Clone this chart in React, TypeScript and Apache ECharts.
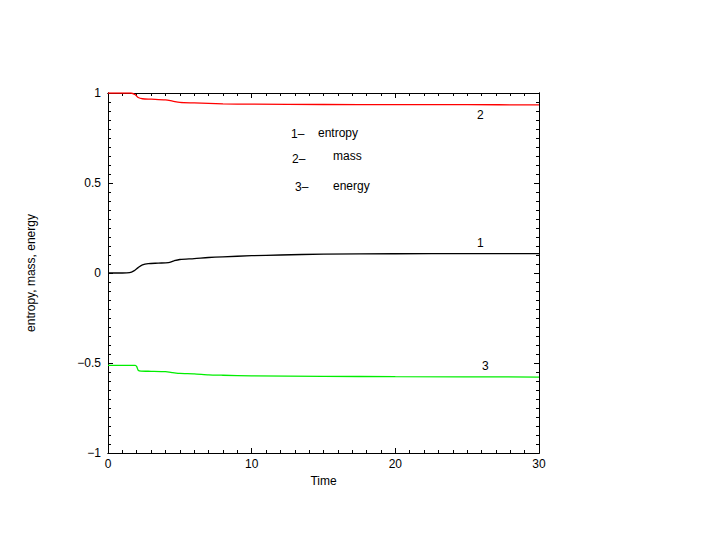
import React, { useEffect, useRef } from "react";
import * as echarts from "echarts";

const entropyT = [0, 1, 1.5, 1.8, 2.1, 2.4, 2.8, 3.5, 4.2, 4.6, 5, 6, 7, 8, 10, 12, 15, 20, 25, 30];
const entropyV = [0, 0, 0.002, 0.012, 0.03, 0.045, 0.052, 0.055, 0.058, 0.068, 0.075, 0.08, 0.086, 0.09, 0.096, 0.1, 0.105, 0.107, 0.108, 0.108];

const massT = [0, 1.6, 1.9, 2.1, 2.4, 3, 4, 4.5, 5, 6, 8, 10, 15, 20, 25, 30];
const massV = [1, 1, 0.99, 0.975, 0.968, 0.966, 0.962, 0.955, 0.948, 0.945, 0.94, 0.938, 0.936, 0.935, 0.935, 0.934];

const energyT = [0, 1.9, 2.0, 2.1, 2.3, 3, 4, 4.5, 5, 6, 7, 8, 10, 15, 20, 30];
const energyV = [-0.513, -0.513, -0.52, -0.54, -0.545, -0.546, -0.548, -0.553, -0.558, -0.56, -0.566, -0.568, -0.571, -0.574, -0.576, -0.578];

const legendNums = ["1–", "2–", "3–"];
const legendNames = ["entropy", "mass", "energy"];
const curveLabels = ["1", "2", "3"];

const FONT = "Liberation Sans, Arial, Helvetica, sans-serif";

const pairs = (t: number[], v: number[]) => t.map((x, i) => [x, v[i]]);

export default function App() {
  const ref = useRef<HTMLDivElement>(null);
  useEffect(() => {
    if (!ref.current) return;
    const chart = echarts.init(ref.current, null, { renderer: "svg" });
    const mkAxis = (position: string, min: number, max: number, interval: number, tickLen: number, extra: any = {}) => ({
      type: "value",
      position,
      min,
      max,
      interval,
      axisLine: { show: true, onZero: false, lineStyle: { color: "#000", width: 1 } },
      axisTick: { show: true, inside: true, length: tickLen, lineStyle: { color: "#000", width: 1 } },
      minorTick: { show: false },
      splitLine: { show: false },
      axisLabel: { show: false },
      ...extra,
    });
    const labelStyle = { show: true, color: "#000", fontSize: 12, fontFamily: FONT };
    const nameStyle = { color: "#000", fontSize: 12, fontFamily: FONT };
    const fmt = (v: number) => (v === 0 ? "0" : String(v).replace("-", "−"));
    const txt = (text: string, x: number, y: number) => ({
      type: "text",
      x,
      y,
      style: { text, fill: "#000", font: `12px ${FONT}`, textAlign: "left", textVerticalAlign: "middle" },
    });
    chart.setOption({
      animation: false,
      backgroundColor: "#fff",
      grid: { left: 108, right: 166, top: 93, bottom: 92 },
      xAxis: [
        mkAxis("bottom", 0, 30, 10, 5, {
          name: "Time",
          nameLocation: "middle",
          nameGap: 21,
          nameTextStyle: nameStyle,
          axisLabel: { ...labelStyle, margin: 5 },
        }),
        mkAxis("bottom", 0, 30, 1, 3),
        mkAxis("top", 0, 30, 10, 5),
        mkAxis("top", 0, 30, 1, 3),
      ],
      yAxis: [
        mkAxis("left", -1, 1, 0.5, 5, {
          name: "entropy, mass, energy",
          nameLocation: "middle",
          nameGap: 71,
          nameTextStyle: nameStyle,
          axisLabel: { ...labelStyle, margin: 7, formatter: fmt },
        }),
        mkAxis("left", -1, 1, 0.05, 3),
        mkAxis("right", -1, 1, 0.5, 5),
        mkAxis("right", -1, 1, 0.05, 3),
      ],
      series: [
        {
          type: "line",
          data: pairs(entropyT, entropyV),
          showSymbol: false,
          smooth: 0.3,
          lineStyle: { color: "#000", width: 1.3 },
        },
        {
          type: "line",
          data: pairs(massT, massV),
          showSymbol: false,
          smooth: 0.3,
          lineStyle: { color: "#ff0000", width: 1.3 },
        },
        {
          type: "line",
          data: pairs(energyT, energyV),
          showSymbol: false,
          smooth: 0.2,
          lineStyle: { color: "#00ee00", width: 1.3 },
        },
      ],
      graphic: [
        txt(legendNums[0], 291, 134),
        txt(legendNames[0], 318, 133),
        txt(legendNums[1], 292, 159),
        txt(legendNames[1], 333, 156),
        txt(legendNums[2], 295, 187),
        txt(legendNames[2], 333, 186),
        txt(curveLabels[0], 477, 243),
        txt(curveLabels[1], 477, 115),
        txt(curveLabels[2], 482, 366),
      ],
    });
    return () => chart.dispose();
  }, []);
  return <div ref={ref} style={{ width: 705, height: 545, position: "absolute", left: 0, top: 0 }} />;
}
